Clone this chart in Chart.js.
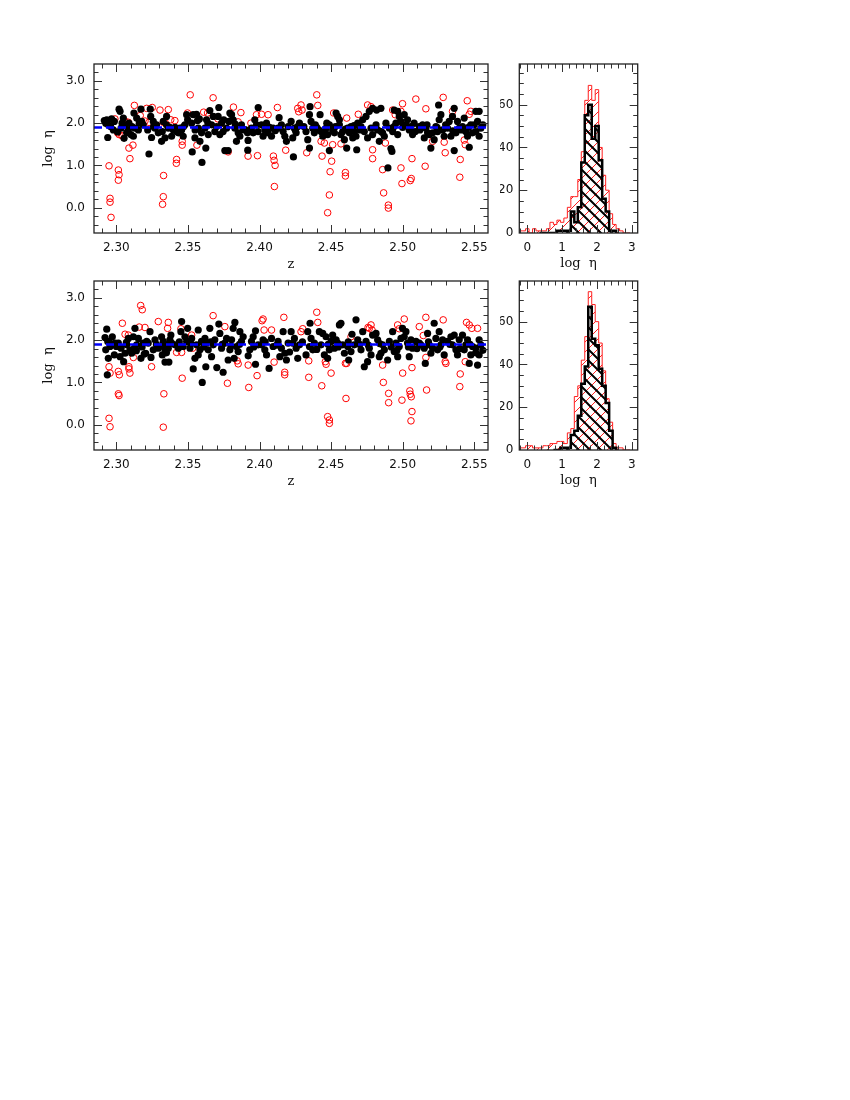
<!DOCTYPE html>
<html>
<head>
<meta charset="utf-8">
<script src="https://cdn.jsdelivr.net/npm/chart.js@4.4.1/dist/chart.umd.min.js"></script>
<style>
  body { margin: 0; background: #fff; }
  #page { position: relative; width: 850px; height: 1100px; }
  canvas { position: absolute; }
</style>
</head>
<body>
<div id="page">
  <canvas id="scatterTop" width="500" height="280" style="left:0;top:0"></canvas>
  <canvas id="histTop" width="150" height="280" style="left:500px;top:0"></canvas>
  <canvas id="scatterBottom" width="500" height="280" style="left:0;top:217px"></canvas>
  <canvas id="histBottom" width="150" height="280" style="left:500px;top:217px"></canvas>
</div>
<script>
// tick labels
const zTicks = [2.30, 2.35, 2.40, 2.45, 2.50, 2.55];
const logEtaTicks = [0, 1, 2, 3];
const histTicks = [0, 1, 2, 3];
const countTicks = [0, 20, 40, 60];

// dashed mean level
const meanTop = 1.9;
const meanBottom = 1.9;

// top panel: [z, log eta]
const topFilled = [
  [2.2916,2.06],[2.2933,2.08],[2.2967,2.10],[2.2986,2.04],[2.2944,1.96],[2.2926,2.00],[2.2940,1.66],[2.2979,1.84],
  [2.3019,2.33],[2.3026,2.28],[2.3049,2.12],[2.3061,1.96],[2.3033,1.88],[2.3084,1.84],[2.3054,1.64],[2.3072,1.77],[2.3009,1.79],[2.3088,2.00],
  [2.3123,2.24],[2.3142,2.12],[2.3172,2.33],[2.3177,2.04],[2.3154,1.84],[2.3188,1.96],[2.3119,1.69],[2.3102,1.73],[2.3130,1.88],
  [2.3237,2.33],[2.3240,2.16],[2.3228,1.27],[2.3246,1.66],[2.3219,1.84],[2.3270,1.88],[2.3293,1.77],[2.3281,1.96],[2.3258,2.04],
  [2.3316,1.57],[2.3328,2.04],[2.3351,2.16],[2.3363,1.88],[2.3386,1.69],[2.3321,1.80],[2.3374,1.90],[2.3340,1.65],[2.3398,1.84],
  [2.3421,1.80],[2.3444,1.88],[2.3456,1.84],[2.3479,1.96],[2.3491,2.20],[2.3467,1.69],[2.3433,1.77],[2.3498,2.08],
  [2.3530,1.32],[2.3537,2.20],[2.3560,2.21],[2.3572,1.88],[2.3595,1.77],[2.3526,2.00],[2.3549,1.65],[2.3584,1.57],[2.3598,1.07],[2.3567,2.06],
  [2.3625,1.41],[2.3653,2.30],[2.3630,2.08],[2.3665,1.96],[2.3688,1.80],[2.3642,1.73],[2.3677,2.16],[2.3619,1.88],
  [2.3716,2.37],[2.3711,2.16],[2.3735,2.00],[2.3758,1.35],[2.3781,1.35],[2.3746,1.80],[2.3770,1.88],[2.3793,2.24],[2.3723,1.73],[2.3786,2.04],
  [2.3816,2.08],[2.3828,1.88],[2.3851,1.77],[2.3839,1.57],[2.3874,1.96],[2.3886,1.84],[2.3863,1.69],[2.3805,2.20],
  [2.3918,1.36],[2.3920,1.59],[2.3916,1.77],[2.3944,1.88],[2.3967,2.08],[2.3991,2.37],[2.3979,1.96],[2.3956,1.77],
  [2.4014,1.96],[2.4037,1.84],[2.4060,1.77],[2.4084,1.69],[2.4049,2.00],[2.4025,1.69],[2.4095,1.88],
  [2.4137,2.13],[2.4130,1.88],[2.4165,1.80],[2.4177,1.69],[2.4153,1.96],[2.4188,1.57],[2.4200,1.92],
  [2.4221,2.04],[2.4237,1.20],[2.4244,1.88],[2.4256,1.77],[2.4267,1.92],[2.4279,2.00],[2.4232,1.65],
  [2.4337,1.61],[2.4349,1.41],[2.4353,2.39],[2.4349,2.20],[2.4360,2.04],[2.4372,1.88],[2.4383,1.77],[2.4325,1.80],[2.4390,1.96],
  [2.4423,2.20],[2.4488,1.35],[2.4430,1.80],[2.4453,1.77],[2.4465,1.88],[2.4476,1.73],[2.4442,1.69],[2.4488,1.96],[2.4414,1.84],
  [2.4535,2.24],[2.4546,2.16],[2.4558,2.08],[2.4569,1.73],[2.4581,1.80],[2.4511,1.84],[2.4523,1.77],[2.4593,1.61],[2.4558,1.96],[2.4609,1.41],
  [2.4616,1.88],[2.4639,1.92],[2.4662,1.80],[2.4674,1.69],[2.4679,1.37],[2.4651,1.65],[2.4686,2.00],[2.4628,1.77],
  [2.4721,2.08],[2.4744,2.16],[2.4767,2.28],[2.4790,2.35],[2.4732,1.80],[2.4755,1.65],[2.4779,1.88],[2.4709,1.92],[2.4790,1.73],
  [2.4818,2.31],[2.4848,2.35],[2.4837,1.57],[2.4860,1.77],[2.4825,1.84],[2.4872,1.69],[2.4883,2.00],[2.4897,0.94],[2.4814,1.96],
  [2.4918,1.40],[2.4941,2.31],[2.4965,2.28],[2.4976,2.16],[2.4953,2.00],[2.4907,1.88],[2.4930,1.80],[2.4988,2.04],[2.4965,1.73],[2.4925,1.33],
  [2.5011,2.20],[2.5034,2.08],[2.5046,1.84],[2.5069,1.73],[2.5023,1.96],[2.5058,1.92],[2.5088,1.80],
  [2.5139,1.96],[2.5162,1.88],[2.5186,1.73],[2.5151,1.65],[2.5174,1.77],[2.5116,1.92],[2.5197,1.41],
  [2.5209,1.77],[2.5232,1.92],[2.5255,2.08],[2.5267,2.20],[2.5251,2.43],[2.5279,1.84],[2.5290,1.69],[2.5220,1.61],[2.5244,1.80],
  [2.5313,1.88],[2.5325,2.04],[2.5348,2.16],[2.5360,2.35],[2.5383,2.04],[2.5372,1.77],[2.5360,1.35],[2.5395,1.88],[2.5337,1.69],
  [2.5418,1.92],[2.5441,1.80],[2.5465,1.43],[2.5476,1.96],[2.5430,2.12],[2.5453,1.69],[2.5488,1.77],
  [2.5511,2.28],[2.5534,2.28],[2.5523,2.04],[2.5511,1.80],[2.5546,1.88],[2.5534,1.69],
  [2.2960,1.92],[2.3040,2.00],[2.3110,1.92],[2.3160,2.00],[2.3260,1.92],[2.3350,1.96],[2.3410,1.90],[2.3470,1.92],
  [2.3550,1.84],[2.3580,2.10],[2.3640,2.00],[2.3700,1.92],[2.3750,2.08],[2.3830,1.98],[2.3900,1.85],[2.3990,1.80],
  [2.4070,1.90],[2.4110,1.82],[2.4250,1.84],[2.4310,1.92],[2.4400,1.90],[2.4470,2.00],[2.4530,1.92],[2.4600,1.86],
  [2.4660,1.94],[2.4700,1.84],[2.4810,1.90],[2.4850,1.80],[2.4940,1.92],[2.5000,1.90],[2.5080,2.00],[2.5120,1.84],
  [2.5170,1.96],[2.5240,1.90],[2.5300,1.96],[2.5350,1.82],[2.5410,1.84],[2.5460,1.90],[2.5500,1.96],[2.5560,1.96]
];
const topOpen = [
  [2.3516,2.67],[2.3676,2.60],[2.3126,2.42],[2.3212,2.35],[2.3251,2.37],[2.3305,2.31],[2.3363,2.32],[2.3818,2.38],
  [2.4125,2.37],[2.4060,2.20],[2.3637,2.24],[2.3497,2.24],[2.3167,2.18],[2.3060,2.05],[2.3084,2.02],[2.3088,1.41],
  [2.3095,1.16],[2.3116,1.48],[2.3009,1.77],[2.3019,1.73],[2.2949,0.99],[2.3014,0.89],[2.3019,0.78],[2.3014,0.65],
  [2.2956,0.22],[2.2956,0.13],[2.2963,-0.23],[2.3330,0.76],[2.3328,0.26],[2.3323,0.08],[2.3460,1.57],[2.3460,1.48],
  [2.3421,1.14],[2.3419,1.05],[2.3563,1.48],[2.3781,1.32],[2.3920,1.22],[2.3986,1.23],[2.4097,1.22],[2.4102,1.12],
  [2.4109,1.00],[2.4104,0.50],[2.4183,1.36],[2.3979,2.20],[2.4014,2.21],[2.3851,2.03],[2.3763,1.96],[2.3409,2.06],
  [2.3328,2.02],[2.3228,2.02],[2.2990,2.10],[2.3040,1.70],[2.3200,2.05],[2.3380,2.08],[2.3610,2.26],[2.3710,2.10],
  [2.3870,2.25],[2.3940,2.00],
  [2.4400,2.67],[2.4407,2.42],[2.4290,2.43],[2.4297,2.31],[2.4274,2.27],[2.4267,2.35],[2.4330,1.30],[2.4430,1.57],
  [2.4453,1.53],[2.4437,1.22],[2.4504,1.10],[2.4493,0.85],[2.4600,0.83],[2.4600,0.75],[2.4488,0.30],[2.4476,-0.12],
  [2.4518,2.24],[2.4609,2.12],[2.4511,1.49],[2.4569,1.51],[2.4690,2.21],[2.4755,2.43],[2.4779,2.39],[2.4790,1.37],
  [2.4790,1.16],[2.4860,0.90],[2.4867,0.35],[2.4900,0.06],[2.4900,-0.01],[2.4879,1.53],[2.4930,2.31],[2.4948,2.20],
  [2.4999,2.46],[2.4988,2.28],[2.4988,0.94],[2.4995,0.57],[2.5053,0.64],[2.5060,0.69],[2.5065,1.16],[2.5092,2.57],
  [2.5162,2.34],[2.5157,0.98],[2.5283,2.61],[2.5290,1.55],[2.5297,1.30],[2.5209,1.57],[2.5348,2.28],[2.5402,1.14],
  [2.5399,0.72],[2.5451,2.53],[2.5476,2.28],[2.5465,2.21],[2.5437,1.49],[2.5430,1.60]
];

// bottom panel: [z, log eta]
const bottomFilled = [
  [2.2933,2.26],[2.2921,2.06],[2.2940,1.97],[2.2926,1.77],[2.2944,1.57],[2.2937,1.18],[2.2956,1.85],[2.2972,2.08],[2.2986,1.65],[2.2991,1.93],
  [2.3014,1.93],[2.3033,1.81],[2.3051,1.49],[2.3061,1.69],[2.3072,1.89],[2.3084,2.04],[2.3026,1.61],[2.3095,1.77],
  [2.3130,2.28],[2.3119,2.08],[2.3126,1.81],[2.3142,1.89],[2.3172,1.57],[2.3188,1.93],[2.3107,1.69],[2.3154,2.04],[2.3195,1.67],
  [2.3205,1.69],[2.3235,2.20],[2.3242,1.59],[2.3223,1.93],[2.3270,2.01],[2.3293,1.81],[2.3258,1.77],[2.3212,1.97],
  [2.3316,2.08],[2.3328,1.97],[2.3351,1.89],[2.3374,2.01],[2.3340,1.77],[2.3363,1.81],[2.3386,1.93],[2.3340,1.48],[2.3367,1.48],[2.3321,1.65],[2.3381,2.12],
  [2.3456,2.44],[2.3451,2.20],[2.3479,2.08],[2.3467,1.85],[2.3491,1.97],[2.3433,1.81],[2.3409,1.89],[2.3498,2.28],
  [2.3526,2.04],[2.3537,1.32],[2.3560,1.89],[2.3572,2.24],[2.3584,1.77],[2.3549,1.57],[2.3514,1.81],[2.3595,1.97],[2.3572,1.65],
  [2.3625,1.37],[2.3600,1.00],[2.3653,2.28],[2.3630,1.93],[2.3677,1.89],[2.3642,1.77],[2.3688,2.01],[2.3619,2.04],[2.3665,1.61],
  [2.3702,1.35],[2.3716,2.38],[2.3723,2.16],[2.3746,1.24],[2.3758,1.93],[2.3781,1.53],[2.3793,1.77],[2.3735,1.81],[2.3770,2.04],
  [2.3828,2.42],[2.3816,2.28],[2.3805,2.01],[2.3839,1.85],[2.3851,1.73],[2.3874,1.97],[2.3886,2.08],[2.3863,2.20],[2.3823,1.57],
  [2.3921,1.63],[2.3932,1.77],[2.3972,2.22],[2.3972,1.43],[2.3944,1.97],[2.3991,1.89],[2.3956,2.08],
  [2.4014,1.89],[2.4037,1.77],[2.4067,1.33],[2.4084,2.04],[2.4049,1.65],[2.4025,2.01],[2.4095,1.85],
  [2.4130,1.97],[2.4153,1.81],[2.4165,2.20],[2.4177,1.69],[2.4188,1.53],[2.4142,1.61],[2.4200,1.93],
  [2.4221,2.20],[2.4244,2.04],[2.4256,1.81],[2.4267,1.57],[2.4232,1.93],[2.4279,1.89],
  [2.4337,2.20],[2.4353,2.40],[2.4360,2.04],[2.4349,1.85],[2.4372,1.77],[2.4325,1.65],[2.4383,1.93],
  [2.4418,2.20],[2.4442,2.16],[2.4465,2.08],[2.4453,1.65],[2.4476,1.57],[2.4488,1.77],[2.4430,1.89],[2.4500,1.97],
  [2.4511,2.12],[2.4535,2.01],[2.4558,2.36],[2.4569,2.40],[2.4523,1.81],[2.4546,1.93],[2.4581,1.89],[2.4593,1.69],
  [2.4616,1.85],[2.4646,2.14],[2.4674,2.48],[2.4639,1.73],[2.4662,1.89],[2.4686,2.01],[2.4623,1.53],
  [2.4721,2.20],[2.4732,1.37],[2.4744,1.97],[2.4767,1.81],[2.4779,1.65],[2.4790,2.12],[2.4755,1.49],[2.4709,1.77],
  [2.4814,2.16],[2.4837,1.61],[2.4860,1.89],[2.4895,1.53],[2.4825,2.01],[2.4872,1.77],[2.4848,1.69],
  [2.4930,2.20],[2.4953,1.93],[2.4965,1.61],[2.4976,1.85],[2.4988,2.04],[2.4941,1.73],[2.4907,1.97],[2.4999,2.28],
  [2.5011,2.08],[2.5034,1.93],[2.5046,1.61],[2.5069,1.81],[2.5023,2.20],[2.5093,1.97],[2.5058,2.01],
  [2.5158,1.45],[2.5174,2.16],[2.5186,1.89],[2.5127,1.89],[2.5197,1.69],[2.5151,1.81],[2.5116,1.93],
  [2.5220,2.40],[2.5232,2.04],[2.5255,2.20],[2.5267,1.89],[2.5279,2.01],[2.5244,1.77],[2.5290,1.65],[2.5209,1.81],
  [2.5313,1.97],[2.5337,2.08],[2.5348,1.89],[2.5372,1.77],[2.5383,1.65],[2.5360,2.12],[2.5395,2.01],
  [2.5418,2.12],[2.5441,1.89],[2.5465,1.45],[2.5476,1.65],[2.5430,1.77],[2.5453,2.01],[2.5488,1.85],
  [2.5523,1.41],[2.5534,2.01],[2.5511,1.81],[2.5546,1.89],[2.5534,1.65],
  [2.2950,1.96],[2.3000,1.85],[2.3070,1.95],[2.3140,1.75],[2.3180,1.84],[2.3280,1.90],[2.3330,1.85],[2.3350,1.70],
  [2.3370,1.92],[2.3440,1.96],[2.3520,1.92],[2.3610,1.84],[2.3660,1.96],[2.3740,1.90],[2.3800,1.86],[2.3860,1.90],
  [2.3960,1.84],[2.4040,1.96],[2.4120,1.88],[2.4210,1.72],[2.4300,1.96],[2.4400,1.78],[2.4480,1.90],[2.4550,1.84],
  [2.4620,1.96],[2.4700,1.90],[2.4760,1.88],[2.4840,1.92],[2.4920,1.84],[2.4960,1.76],[2.5040,1.84],[2.5100,1.80],
  [2.5180,1.96],[2.5260,1.84],[2.5330,1.90],[2.5400,1.80],[2.5470,1.90],[2.5510,1.70],[2.5560,1.76]
];
const bottomOpen = [
  [2.3170,2.82],[2.3181,2.72],[2.3042,2.40],[2.2949,1.37],[2.2956,1.22],[2.3014,1.26],[2.3021,1.18],[2.3088,1.37],
  [2.3095,1.22],[2.3088,1.32],[2.3014,0.73],[2.3019,0.69],[2.2949,0.15],[2.2956,-0.05],[2.3119,1.59],[2.3246,1.37],
  [2.3332,0.73],[2.3328,-0.06],[2.3460,1.10],[2.3293,2.44],[2.3363,2.42],[2.3358,2.28],[2.3421,1.71],[2.3456,1.71],
  [2.3676,2.58],[2.3758,2.32],[2.3776,0.98],[2.3851,1.44],[2.3844,1.51],[2.3921,1.41],[2.3925,0.88],[2.3983,1.16],
  [2.4025,2.50],[2.4018,2.46],[2.4084,2.24],[2.4032,2.24],[2.4170,2.54],[2.4176,1.24],[2.4176,1.18],[2.4102,1.48],
  [2.3061,2.14],[2.3084,2.12],[2.3160,2.31],[2.3200,2.30],[2.3451,2.27],[2.3533,1.81],[2.3526,2.12],
  [2.4400,2.66],[2.4407,2.42],[2.4344,1.51],[2.4344,1.12],[2.4435,0.92],[2.4460,1.49],[2.4465,1.43],[2.4500,1.22],
  [2.4476,0.19],[2.4488,0.11],[2.4488,0.03],[2.4604,0.62],[2.4600,1.45],[2.4609,1.45],[2.4779,2.36],[2.4767,2.28],
  [2.4865,1.00],[2.4902,0.74],[2.4902,0.52],[2.4860,1.41],[2.4995,0.58],[2.5000,1.22],[2.5050,0.80],[2.5053,0.72],
  [2.5060,0.66],[2.5065,0.31],[2.5058,0.09],[2.5065,1.35],[2.5011,2.50],[2.5162,2.54],[2.5283,2.48],[2.5162,1.59],
  [2.5167,0.82],[2.5297,1.49],[2.5302,1.45],[2.5437,1.49],[2.5402,1.20],[2.5399,0.90],[2.5446,2.42],[2.5465,2.36],
  [2.5483,2.28],[2.5523,2.28],[2.5116,2.32],[2.5144,2.11],[2.4965,2.36],[2.4976,2.27],[2.4758,2.30],[2.4786,2.24],
  [2.4302,2.27],[2.4290,2.20],[2.4639,2.08]
];

// histograms: bin centres in log eta, counts per bin (null = no bin drawn)
const binCentres = [-0.2, -0.1, 0.0, 0.1, 0.2, 0.3, 0.4, 0.5, 0.6, 0.7,
                    0.8, 0.9, 1.0, 1.1, 1.2, 1.3, 1.4, 1.5, 1.6, 1.7,
                    1.8, 1.9, 2.0, 2.1, 2.2, 2.3, 2.4, 2.5, 2.6, 2.7,
                    2.8, 2.9];
const histTopAll = [1, 1, 2, 0, 2, 1, 1, 1, 2, 5,
                    4, 6, 5, 7, 12, 17, 17, 25, 38, 62,
                    69, 62, 67, 40, 27, 20, 9, 4, 2, 1,
                    0, 0];
const histTopSel = [null, null, null, null, null, null, 0, 0, 0, 0,
                    0, 1, 1, 1, 1, 10, 5, 12, 33, 55,
                    60, 44, 50, 34, 16, 10, 1, 1, null, null,
                    null, null];
const histBottomAll = [1, 1, 2, 2, 1, 1, 1, 2, 2, 3,
                       3, 4, 4, 3, 8, 10, 25, 30, 42, 53,
                       74, 68, 60, 50, 37, 24, 13, 3, 1, 1,
                       0, 0];
const histBottomSel = [null, null, null, null, null, null, null, null, null, null,
                       0, 0, 1, 1, 1, 7, 9, 16, 31, 39,
                       67, 52, 49, 38, 30, 22, 9, 1, null, null,
                       null, null];

const zMin = 2.2844, zMax = 2.5596;
const tickFont = { family: "DejaVu Sans", size: 12 };
const titleFont = { family: "DejaVu Serif", size: 13 };

// inside ticks on all four sides + frame
const frameTicks = {
    id: "frameTicks",
    afterDatasetsDraw(chart, args, o) {
        const { ctx, chartArea: a } = chart;
        const x = chart.scales.x, y = chart.scales.y;
        ctx.save();
        ctx.strokeStyle = "#333";
        ctx.lineWidth = 1;
        ctx.beginPath();
        const xs = (vals, len) => vals.forEach(v => {
            const p = Math.round(x.getPixelForValue(v)) + 0.5;
            if (p <= a.left + 1 || p >= a.right - 1) return;
            ctx.moveTo(p, a.bottom); ctx.lineTo(p, a.bottom - len);
            ctx.moveTo(p, a.top); ctx.lineTo(p, a.top + len);
        });
        const ys = (vals, len) => vals.forEach(v => {
            const p = Math.round(y.getPixelForValue(v)) + 0.5;
            if (p <= a.top + 1 || p >= a.bottom - 1) return;
            ctx.moveTo(a.left, p); ctx.lineTo(a.left + len, p);
            ctx.moveTo(a.right, p); ctx.lineTo(a.right - len, p);
        });
        xs(o.xMinor, 4.5); xs(o.xMajor, 8);
        ys(o.yMinor, 4.5); ys(o.yMajor, 8);
        ctx.stroke();
        ctx.lineWidth = 1.3;
        ctx.strokeStyle = "#222";
        ctx.strokeRect(a.left, a.top, a.right - a.left, a.bottom - a.top);
        ctx.restore();
    },
};

function minorList(from, to, step) {
    const out = [];
    for (let i = Math.round(from / step); i <= Math.round(to / step); i++) out.push(+(i * step).toFixed(4));
    return out;
}

function hatch(color, width, size, rising) {
    const c = document.createElement("canvas");
    c.width = c.height = size;
    const g = c.getContext("2d");
    g.strokeStyle = color;
    g.lineWidth = width;
    g.beginPath();
    if (rising) {
        g.moveTo(-1, size + 1); g.lineTo(size + 1, -1);
        g.moveTo(-2, 2); g.lineTo(2, -2);
        g.moveTo(size - 2, size + 2); g.lineTo(size + 2, size - 2);
    } else {
        g.moveTo(-1, -1); g.lineTo(size + 1, size + 1);
        g.moveTo(-2, size - 2); g.lineTo(2, size + 2);
        g.moveTo(size - 2, -2); g.lineTo(size + 2, 2);
    }
    g.stroke();
    return g.createPattern(c, "repeat");
}

// outline points at bin edges; with stepped "before" each count is held across its bin
function steps(counts) {
    const pts = [];
    let last = 0;
    counts.forEach((n, i) => {
        if (n === null) return;
        const left = binCentres[i] - 0.05;
        if (!pts.length) pts.push({ x: left, y: 0 });
        pts.push({ x: left, y: n });
        last = binCentres[i] + 0.05;
    });
    const end = pts[pts.length - 1].y;
    pts.push({ x: last, y: end });
    pts.push({ x: last, y: 0 });
    return pts;
}

const toXY = arr => arr.map(p => ({ x: p[0], y: p[1] }));

function createScatter(id, filled, open, mean) {
    const ctx = document.getElementById(id).getContext("2d");
    new Chart(ctx, {
        type: "scatter",
        data: {
            datasets: [
                {
                    type: "line",
                    data: [{ x: zMin, y: mean }, { x: zMax, y: mean }],
                    borderColor: "#0000ff",
                    borderWidth: 2.5,
                    borderDash: [8, 4],
                    pointRadius: 0,
                },
                {
                    data: toXY(filled),
                    pointRadius: 3.6,
                    pointBackgroundColor: "#000",
                    pointBorderWidth: 0,
                },
                {
                    data: toXY(open),
                    pointRadius: 3.3,
                    pointBackgroundColor: "rgba(0,0,0,0)",
                    pointBorderColor: "#ff0000",
                    pointBorderWidth: 1,
                },
            ],
        },
        options: {
            responsive: false,
            animation: false,
            devicePixelRatio: 1,
            layout: { padding: { left: 0, top: 64, right: 12, bottom: 0 } },
            plugins: {
                legend: { display: false },
                tooltip: { enabled: false },
                frameTicks: {
                    xMajor: zTicks,
                    xMinor: minorList(2.29, 2.55, 0.01),
                    yMajor: logEtaTicks,
                    yMinor: minorList(-0.4, 3.4, 0.2),
                },
            },
            scales: {
                x: {
                    type: "linear",
                    min: zMin,
                    max: zMax,
                    afterBuildTicks: s => { s.ticks = zTicks.map(v => ({ value: v })); },
                    afterFit: s => { s.height = 47; },
                    ticks: { callback: v => v.toFixed(2), font: tickFont, color: "#111", padding: 8, maxRotation: 0, autoSkip: false },
                    grid: { display: false, drawTicks: false },
                    border: { display: false },
                    title: { display: true, text: "z", font: titleFont, color: "#111", padding: { top: 0, bottom: 8 } },
                },
                y: {
                    min: -0.6,
                    max: 3.4,
                    afterBuildTicks: s => { s.ticks = logEtaTicks.map(v => ({ value: v })); },
                    afterFit: s => { s.width = 94; },
                    ticks: { callback: v => v.toFixed(1), font: tickFont, color: "#111", padding: 9 },
                    grid: { display: false, drawTicks: false },
                    border: { display: false },
                    title: { display: true, text: "log  η", font: titleFont, color: "#111", padding: { top: 41, bottom: 0 } },
                },
            },
        },
        plugins: [frameTicks],
    });
}

function createHist(id, all, sel) {
    const ctx = document.getElementById(id).getContext("2d");
    new Chart(ctx, {
        type: "line",
        data: {
            datasets: [
                {
                    data: steps(sel),
                    stepped: "before",
                    borderColor: "#000",
                    borderWidth: 2.5,
                    backgroundColor: hatch("#000", 2, 11, false),
                    fill: "origin",
                    pointRadius: 0,
                },
                {
                    data: steps(all),
                    stepped: "before",
                    borderColor: "#ff2020",
                    borderWidth: 1,
                    backgroundColor: hatch("#ff2020", 1, 10, true),
                    fill: "origin",
                    pointRadius: 0,
                },
            ],
        },
        options: {
            responsive: false,
            animation: false,
            devicePixelRatio: 1,
            layout: { padding: { left: 0, top: 64, right: 12.3, bottom: 0 } },
            plugins: {
                legend: { display: false },
                tooltip: { enabled: false },
                frameTicks: {
                    xMajor: histTicks,
                    xMinor: minorList(-0.2, 3.0, 0.2),
                    yMajor: countTicks,
                    yMinor: minorList(5, 75, 5),
                },
            },
            scales: {
                x: {
                    type: "linear",
                    min: -0.23,
                    max: 3.17,
                    afterBuildTicks: s => { s.ticks = histTicks.map(v => ({ value: v })); },
                    afterFit: s => { s.height = 47; },
                    ticks: { callback: v => String(v), font: tickFont, color: "#111", padding: 8, maxRotation: 0, autoSkip: false },
                    grid: { display: false, drawTicks: false },
                    border: { display: false },
                    title: { display: true, text: "log  η", font: titleFont, color: "#111", padding: { top: 0, bottom: 9 } },
                },
                y: {
                    min: 0,
                    max: 79,
                    afterBuildTicks: s => { s.ticks = countTicks.map(v => ({ value: v })); },
                    afterFit: s => { s.width = 19.3; },
                    ticks: { callback: v => String(v), font: tickFont, color: "#111", padding: 6 },
                    grid: { display: false, drawTicks: false },
                    border: { display: false },
                },
            },
        },
        plugins: [frameTicks],
    });
}

createScatter("scatterTop", topFilled, topOpen, meanTop);
createHist("histTop", histTopAll, histTopSel);
createScatter("scatterBottom", bottomFilled, bottomOpen, meanBottom);
createHist("histBottom", histBottomAll, histBottomSel);
</script>
</body>
</html>
